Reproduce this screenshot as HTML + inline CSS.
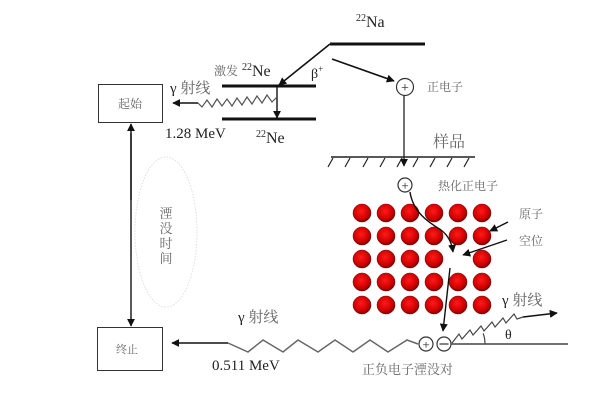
<!DOCTYPE html>
<html><head><meta charset="utf-8"><style>
html,body{margin:0;padding:0;background:#fff;}
svg{display:block;}
.lat{font-family:"Liberation Serif","Noto Serif CJK SC",serif;fill:#222;}
.cjk{font-family:"Liberation Serif","Noto Serif CJK SC","Noto Sans CJK SC",serif;fill:#666;}
</style></head><body>
<svg width="607" height="413" viewBox="0 0 607 413" xmlns="http://www.w3.org/2000/svg">
<defs>
<marker id="ah" viewBox="0 0 10 10" refX="9" refY="5" markerWidth="8" markerHeight="8" markerUnits="userSpaceOnUse" orient="auto">
<path d="M0,0 L10,5 L0,10 z" fill="#111"/></marker>
<radialGradient id="atom" cx="0.45" cy="0.4" r="0.6">
<stop offset="0" stop-color="#ff1a1a"/><stop offset="0.7" stop-color="#d00000"/><stop offset="1" stop-color="#7a0000"/></radialGradient>
</defs>
<rect width="607" height="413" fill="#fff"/>

<!-- 22Na level -->
<line x1="330" y1="44" x2="425" y2="44" stroke="#111" stroke-width="3"/>
<text class="lat" x="356" y="27" font-size="16"><tspan font-size="10" dy="-6">22</tspan><tspan dy="6">Na</tspan></text>
<!-- beta arrow to excited Ne -->
<line x1="330" y1="44" x2="279" y2="85" stroke="#111" stroke-width="1.6" marker-end="url(#ah)"/>
<text class="lat" x="311" y="78" font-size="14">β<tspan font-size="9" dy="-6">+</tspan></text>
<!-- arrow to positron -->
<line x1="332" y1="59" x2="394" y2="81" stroke="#111" stroke-width="1.6" marker-end="url(#ah)"/>
<circle cx="405" cy="87" r="8.5" fill="#fff" stroke="#333" stroke-width="1.2"/>
<text class="lat" x="405" y="92" font-size="14" text-anchor="middle">+</text>
<text class="cjk" x="427" y="91" font-size="12">正电子</text>
<line x1="404" y1="96" x2="404" y2="166" stroke="#333" stroke-width="1.4" marker-end="url(#ah)"/>

<!-- Ne levels -->
<line x1="222" y1="86" x2="316" y2="86" stroke="#111" stroke-width="3"/>
<line x1="222" y1="119" x2="316" y2="119" stroke="#111" stroke-width="3"/>
<line x1="277" y1="86" x2="277" y2="118" stroke="#111" stroke-width="1.4" marker-end="url(#ah)"/>
<text class="cjk" x="214" y="75" font-size="12">激发</text>
<text class="lat" x="242" y="76" font-size="16"><tspan font-size="10" dy="-6">22</tspan><tspan dy="6">Ne</tspan></text>
<text class="lat" x="256" y="143" font-size="16"><tspan font-size="10" dy="-6">22</tspan><tspan dy="6">Ne</tspan></text>
<text class="lat" x="170" y="93" font-size="15">γ<tspan class="cjk" font-size="15" fill="#333"> 射线</tspan></text>
<text class="lat" x="165" y="138" font-size="15">1.28 MeV</text>
<!-- top gamma zigzag -->
<polyline points="277,97 272,102 267,95 262,103 257,96 252,104 247,97 242,105 237,98 232,106 227,99 222,106 217,99 212,107 207,100 202,107 198,103" fill="none" stroke="#555" stroke-width="1.2"/>
<line x1="198" y1="103" x2="173" y2="103" stroke="#111" stroke-width="1.4" marker-end="url(#ah)"/>

<!-- boxes -->
<rect x="98.5" y="84.5" width="64" height="38" fill="#fff" stroke="#333" stroke-width="1"/>
<text class="cjk" x="130" y="108" font-size="12" text-anchor="middle">起始</text>
<rect x="97.5" y="327.5" width="65" height="43" fill="#fff" stroke="#333" stroke-width="1"/>
<text class="cjk" x="127" y="353" font-size="11" text-anchor="middle">终止</text>
<!-- double arrow -->
<line x1="131" y1="133" x2="131" y2="326" stroke="#111" stroke-width="1.4" marker-end="url(#ah)"/>
<line x1="131" y1="200" x2="131" y2="124" stroke="#111" stroke-width="1.4" marker-end="url(#ah)"/>
<!-- ellipse -->
<ellipse cx="166" cy="232" rx="31" ry="75" fill="none" stroke="#ddd" stroke-width="1" stroke-dasharray="1.5,1.5"/>
<text class="cjk" font-size="13" text-anchor="middle"><tspan x="166" y="218">湮</tspan><tspan x="166" y="233">没</tspan><tspan x="166" y="248">时</tspan><tspan x="166" y="263">间</tspan></text>

<!-- sample surface -->
<text class="cjk" x="433" y="147" font-size="16" fill="#555">样品</text>
<line x1="331" y1="157" x2="475" y2="157" stroke="#222" stroke-width="1.6"/>
<g stroke="#222" stroke-width="1.2">
<line x1="333" y1="158" x2="328" y2="167"/><line x1="350" y1="158" x2="345" y2="167"/><line x1="368" y1="158" x2="363" y2="167"/><line x1="385" y1="158" x2="380" y2="167"/><line x1="402" y1="158" x2="397" y2="167"/><line x1="418" y1="158" x2="413" y2="167"/><line x1="435" y1="158" x2="430" y2="167"/><line x1="452" y1="158" x2="447" y2="167"/><line x1="469" y1="158" x2="464" y2="167"/>
</g>
<!-- thermalized positron -->
<circle cx="405" cy="185" r="7" fill="#fff" stroke="#333" stroke-width="1.2"/>
<text class="lat" x="405" y="190" font-size="13" text-anchor="middle">+</text>
<text class="cjk" x="438" y="190" font-size="12">热化正电子</text>

<!-- atoms -->
<g fill="url(#atom)" stroke="#700" stroke-width="0.5">
<circle cx="362" cy="213" r="9"/><circle cx="386" cy="213" r="9"/><circle cx="410" cy="213" r="9"/><circle cx="434" cy="213" r="9"/><circle cx="458" cy="213" r="9"/><circle cx="482" cy="213" r="9"/>
<circle cx="362" cy="236" r="9"/><circle cx="386" cy="236" r="9"/><circle cx="410" cy="236" r="9"/><circle cx="434" cy="236" r="9"/><circle cx="458" cy="236" r="9"/><circle cx="482" cy="236" r="9"/>
<circle cx="362" cy="259" r="9"/><circle cx="386" cy="259" r="9"/><circle cx="410" cy="259" r="9"/><circle cx="434" cy="259" r="9"/><circle cx="482" cy="259" r="9"/>
<circle cx="362" cy="282" r="9"/><circle cx="386" cy="282" r="9"/><circle cx="410" cy="282" r="9"/><circle cx="434" cy="282" r="9"/><circle cx="458" cy="282" r="9"/><circle cx="482" cy="282" r="9"/>
<circle cx="362" cy="305" r="9"/><circle cx="386" cy="305" r="9"/><circle cx="410" cy="305" r="9"/><circle cx="434" cy="305" r="9"/><circle cx="458" cy="305" r="9"/><circle cx="482" cy="305" r="9"/>
</g>
<!-- curved path -->
<path d="M410,192 C413,212 428,222 441,230 C449,236 452,244 453,252" fill="none" stroke="#111" stroke-width="1.4" marker-end="url(#ah)"/>
<text class="cjk" x="519" y="218" font-size="12">原子</text>
<text class="cjk" x="519" y="245" font-size="12">空位</text>
<line x1="508" y1="222" x2="490" y2="231" stroke="#111" stroke-width="1.4" marker-end="url(#ah)"/>
<line x1="507" y1="240" x2="463" y2="255" stroke="#111" stroke-width="1.4" marker-end="url(#ah)"/>
<line x1="450" y1="268" x2="443" y2="331" stroke="#111" stroke-width="1.4" marker-end="url(#ah)"/>

<!-- annihilation pair -->
<circle cx="426" cy="344" r="7" fill="#fff" stroke="#333" stroke-width="1.2"/>
<text class="lat" x="426" y="349" font-size="13" text-anchor="middle">+</text>
<circle cx="444" cy="344" r="7" fill="#fff" stroke="#333" stroke-width="1.2"/>
<line x1="439.5" y1="344" x2="448.5" y2="344" stroke="#333" stroke-width="1.2"/>
<text class="cjk" x="362" y="374" font-size="13">正负电子湮没对</text>
<line x1="451" y1="344" x2="568" y2="344" stroke="#444" stroke-width="1.4"/>
<!-- right gamma -->
<polyline points="452,343 459,334 462,339 470,330 473,335 481,326 484,331 492,322 495,327 503,318 506,323 514,314 517,319 523,317" fill="none" stroke="#444" stroke-width="1.2"/>
<line x1="523" y1="317" x2="557" y2="313" stroke="#111" stroke-width="1.4" marker-end="url(#ah)"/>
<path d="M485,344 A33,33 0 0 0 483.2,333.3" fill="none" stroke="#444" stroke-width="1.2"/>
<text class="lat" x="505" y="339" font-size="14" fill="#444">θ</text>
<text class="lat" x="502" y="305" font-size="15">γ<tspan class="cjk" fill="#444"> 射线</tspan></text>

<!-- bottom gamma -->
<polyline points="228,343 248,352 263,340 283,352 298,340 318,352 335,340 353,352 370,340 388,352 407,340 418,344" fill="none" stroke="#666" stroke-width="1.5"/>
<line x1="228" y1="343" x2="172" y2="343" stroke="#111" stroke-width="1.4" marker-end="url(#ah)"/>
<text class="lat" x="238" y="322" font-size="15">γ<tspan class="cjk" fill="#444"> 射线</tspan></text>
<text class="lat" x="212" y="370" font-size="15">0.511 MeV</text>
</svg>
</body></html>
